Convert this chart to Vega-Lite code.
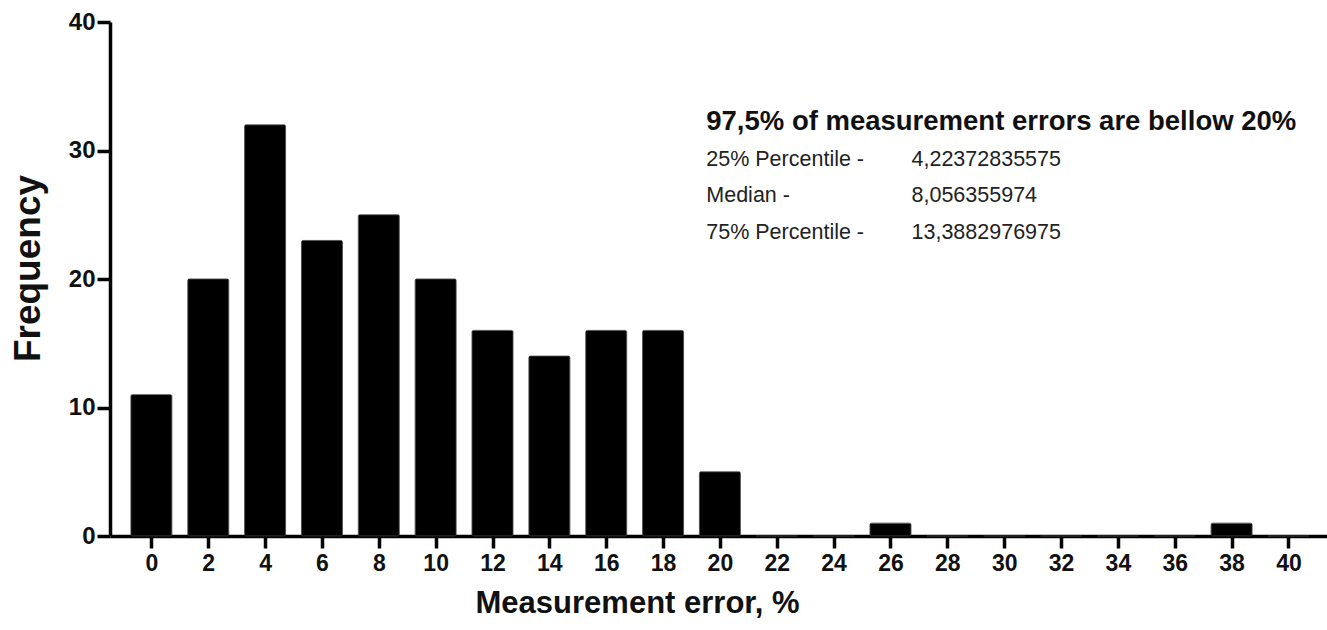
{
  "$schema": "https://vega.github.io/schema/vega-lite/v6.json",
  "autosize": "none",
  "padding": {"left": 110, "top": 22, "right": 0, "bottom": 94},
  "width": 1217,
  "height": 514,
  "background": "white",
  "config": {
    "view": {"stroke": null},
    "font": "Liberation Sans, Arial, sans-serif"
  },
  "datasets": {
    "bars": [
      {"error": 0, "frequency": 11},
      {"error": 2, "frequency": 20},
      {"error": 4, "frequency": 32},
      {"error": 6, "frequency": 23},
      {"error": 8, "frequency": 25},
      {"error": 10, "frequency": 20},
      {"error": 12, "frequency": 16},
      {"error": 14, "frequency": 14},
      {"error": 16, "frequency": 16},
      {"error": 18, "frequency": 16},
      {"error": 20, "frequency": 5},
      {"error": 22, "frequency": 0},
      {"error": 24, "frequency": 0},
      {"error": 26, "frequency": 1},
      {"error": 28, "frequency": 0},
      {"error": 30, "frequency": 0},
      {"error": 32, "frequency": 0},
      {"error": 34, "frequency": 0},
      {"error": 36, "frequency": 0},
      {"error": 38, "frequency": 1},
      {"error": 40, "frequency": 0}
    ],
    "notes": [
      {"x": 19.52, "y": 32.2, "label": "97,5% of measurement errors are bellow 20%", "kind": "head"},
      {"x": 19.52, "y": 29.27, "label": "25% Percentile -", "kind": "body"},
      {"x": 26.74, "y": 29.27, "label": "4,22372835575", "kind": "body"},
      {"x": 19.52, "y": 26.46, "label": "Median -", "kind": "body"},
      {"x": 26.74, "y": 26.46, "label": "8,056355974", "kind": "body"},
      {"x": 19.52, "y": 23.58, "label": "75% Percentile -", "kind": "body"},
      {"x": 26.74, "y": 23.58, "label": "13,3882976975", "kind": "body"}
    ]
  },
  "layer": [
    {
      "data": {"name": "bars"},
      "mark": {"type": "bar", "color": "black", "size": 41, "cornerRadius": 1.5, "stroke": "#333", "strokeWidth": 0.8},
      "encoding": {
        "x": {
          "field": "error",
          "type": "quantitative",
          "scale": {"domain": [-1.28, 41.18], "nice": false, "zero": false},
          "axis": {
            "values": [0,2,4,6,8,10,12,14,16,18,20,22,24,26,28,30,32,34,36,38,40],
            "grid": false,
            "domainColor": "black",
            "domainWidth": 3.5,
            "tickColor": "black",
            "tickWidth": 3.5,
            "tickSize": 12,
            "labelFontSize": 23,
            "labelFontWeight": "bold",
            "labelColor": "#111",
            "labelPadding": 4,
            "labelFlush": false,
            "title": "Measurement error, %",
            "titleFontSize": 31,
            "titleFontWeight": "bold",
            "titleColor": "#111",
            "titleX": 527,
            "titleY": 67,
            "titleBaseline": "middle",
            "titleAlign": "center",
            "titleAnchor": null
          }
        },
        "y": {
          "field": "frequency",
          "type": "quantitative",
          "scale": {"domain": [0, 40], "nice": false},
          "axis": {
            "values": [0, 10, 20, 30, 40],
            "grid": false,
            "domainColor": "black",
            "domainWidth": 3.5,
            "tickColor": "black",
            "tickWidth": 3.5,
            "tickSize": 13,
            "labelFontSize": 24,
            "labelFontWeight": "bold",
            "labelColor": "#111",
            "labelPadding": 2,
            "labelFlush": false,
            "title": "Frequency",
            "titleFontSize": 37,
            "titleFontWeight": "bold",
            "titleColor": "#111",
            "titleX": -82,
            "titleY": 246,
            "titleBaseline": "middle",
            "titleAlign": "center",
            "titleAngle": -90,
            "titleAnchor": null
          }
        }
      }
    },
    {
      "data": {"name": "notes"},
      "transform": [{"filter": "datum.kind === 'head'"}],
      "mark": {"type": "text", "align": "left", "baseline": "middle", "fontSize": 27.5, "fontWeight": "bold", "color": "#111"},
      "encoding": {
        "x": {"field": "x", "type": "quantitative"},
        "y": {"field": "y", "type": "quantitative"},
        "text": {"field": "label"}
      }
    },
    {
      "data": {"name": "notes"},
      "transform": [{"filter": "datum.kind === 'body'"}],
      "mark": {"type": "text", "align": "left", "baseline": "middle", "fontSize": 21.5, "color": "#222"},
      "encoding": {
        "x": {"field": "x", "type": "quantitative"},
        "y": {"field": "y", "type": "quantitative"},
        "text": {"field": "label"}
      }
    }
  ]
}
